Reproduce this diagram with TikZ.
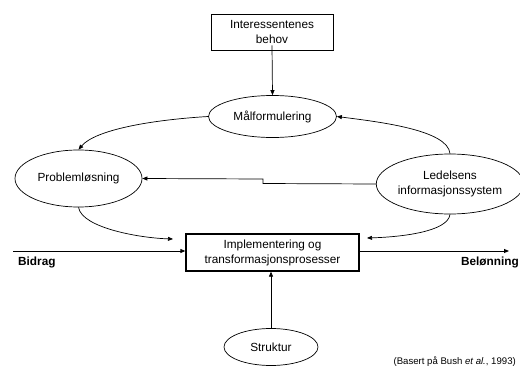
\documentclass[tikz,border=0pt]{standalone}
\usepackage{fontspec}
\setmainfont{Liberation Sans}
\usetikzlibrary{shapes.geometric,arrows.meta}
\begin{document}
\begin{tikzpicture}[x=1pt,y=-1pt,
  every node/.style={font=\fontsize{11.8}{15}\selectfont, align=center, inner sep=0pt},
  boxnode/.style={draw, rectangle, line width=0.8pt},
  implbox/.style={draw, rectangle, line width=1.3pt},
  oval/.style={draw, ellipse, line width=0.7pt},
  conn/.style={line width=0.7pt, -{Triangle[length=5pt,width=4pt]}},
  flow/.style={line width=0.9pt, -{Triangle[length=5pt,width=4pt]}},
  sidelabel/.style={font=\fontsize{11.8}{14}\selectfont\bfseries},
  source/.style={font=\fontsize{9.6}{12}\selectfont}]
\useasboundingbox (0,0) rectangle (520,372);

% nodes
\node[boxnode, minimum width=122pt, minimum height=36pt] (behov) at (272,32) {Interessentenes\\behov};
\node[oval, minimum width=128pt, minimum height=42pt] (maal) at (272.5,116.5) {Målformulering};
\node[oval, minimum width=127pt, minimum height=57pt] (prob) at (78.5,178.5) {Problemløsning};
\node[oval, minimum width=134pt, minimum height=60pt] (leis) at (450,184) {Ledelsens\\informasjonssystem};
\node[implbox, minimum width=173pt, minimum height=37pt] (impl) at (272.5,252.5) {Implementering og\\transformasjonsprosesser};
\node[oval, minimum width=94pt, minimum height=37pt] (strukt) at (271,347) {Struktur};

% free ends of the side flows
\coordinate (bidragstart) at (13,251);
\coordinate (belonnend) at (509,251);
\coordinate (probend) at (173,239);
\coordinate (leisend) at (367,238);
\coordinate (jogA) at (263,183.5);
\coordinate (jogB) at (263,179);

% connectors
\draw[conn] ([yshift=5pt]behov.south) -- (maal.north);
\draw[conn] (maal.west) .. controls (150,120) and (95,130) .. (prob.north);
\draw[conn] (leis.north) .. controls (448,130) and (380,122) .. (maal.east);
\draw[conn] (leis.west) -- (jogA) -- (jogB) -- (prob.east);
\draw[conn] (prob.south) .. controls (82,228) and (140,238) .. (probend);
\draw[conn] (leis.south) .. controls (448,232) and (400,237) .. (leisend);
\draw[conn] (strukt.north) -- (strukt.north |- impl.south);
\draw[flow] (bidragstart) -- (impl.west |- bidragstart);
\draw[flow] (impl.east |- belonnend) -- (belonnend);

% labels
\node[sidelabel, anchor=west] (bidrag) at (18,262) {Bidrag};
\node[sidelabel, anchor=east] (belonn) at (519,262) {Belønning};
\node[source, anchor=east] (kilde) at (516,362) {(Basert på Bush \textit{et al.}, 1993)};
\end{tikzpicture}
\end{document}
